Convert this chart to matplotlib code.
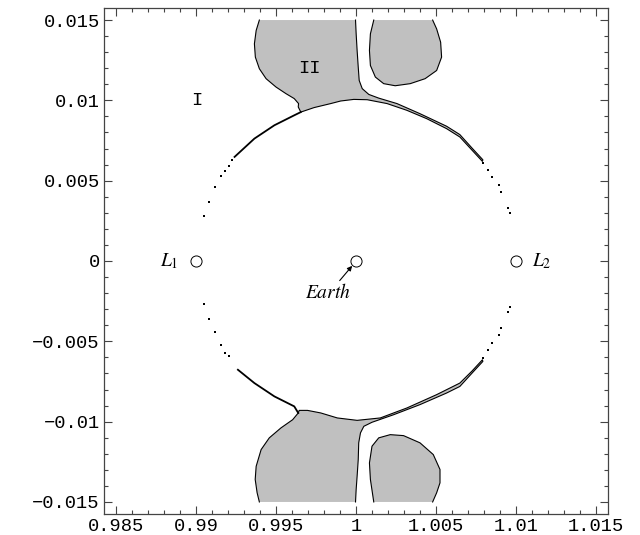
import numpy as np
import matplotlib
matplotlib.use("Agg")
from matplotlib import pyplot as plt
from matplotlib.ticker import MultipleLocator

plt.rcParams['mathtext.fontset'] = 'stix'

# all shape coordinates in units of 1e-3, measured from the Earth (x - 1, y)
# upper region II: left lobe + band along the top of the zero velocity curve
up_x = [-6.04, -6.24, -6.35, -6.29, -6.04, -5.62, -5.00, -4.38, -3.86, -3.59, -3.61,
        -3.45, -2.62, -1.58, -0.96, -0.14, 0.70, 1.94, 3.18, 4.42, 5.66, 6.49, 7.25, 7.90,
        7.93, 7.28, 6.49, 5.66, 4.00, 2.56, 1.42, 0.80, 0.39, 0.20, 0.14, 0.07, 0.01, -0.03]
up_y = [15.0, 14.35, 13.52, 12.69, 11.97, 11.35, 10.83, 10.42, 10.11, 9.80, 9.59,
        9.27, 9.55, 9.80, 9.96, 10.06, 10.04, 9.80, 9.38, 8.86, 8.24, 7.72, 6.90, 6.20,
        6.30, 7.00, 7.87, 8.39, 9.17, 9.80, 10.14, 10.37, 10.73, 11.24, 12.07, 13.11, 14.14, 15.0]

# upper right blob
ub_x = [1.11, 0.90, 0.84, 0.90, 1.21, 1.73, 2.45, 3.39, 4.32, 5.04, 5.35, 5.29, 5.04, 4.79]
ub_y = [15.0, 14.14, 13.11, 12.17, 11.45, 11.04, 10.91, 11.04, 11.35, 11.86, 12.69, 13.62, 14.45, 15.0]

# lower region II
lo_x = [-6.04, -6.18, -6.30, -6.24, -5.93, -5.42, -4.69, -3.96, -3.61,
        -3.55, -3.03, -2.20, -1.17, 0.07, 1.52, 3.18, 5.04, 6.49, 7.25, 7.90,
        7.93, 7.28, 6.49, 5.66, 4.00, 2.35, 1.00, 0.49, 0.28, 0.17, 0.14, 0.07, 0.01, -0.03]
lo_y = [-15.0, -14.43, -13.60, -12.78, -11.74, -11.01, -10.39, -9.88, -9.46,
        -9.30, -9.30, -9.46, -9.77, -9.92, -9.77, -9.15, -8.32, -7.60, -6.85, -6.15,
        -6.25, -6.95, -7.81, -8.22, -8.94, -9.57, -10.04, -10.29, -10.70, -11.32, -12.36, -13.40, -14.22, -15.0]

# lower right blob
lb_x = [1.11, 0.90, 0.84, 1.00, 1.42, 2.14, 2.97, 4.00, 4.83, 5.25, 5.25, 5.04, 4.79]
lb_y = [-15.0, -13.60, -12.57, -11.53, -11.01, -10.81, -10.87, -11.32, -12.05, -12.98, -13.81, -14.43, -15.0]

# thin band on the left side of the curve
bl_x = [-3.45, -3.86, -5.10, -6.35, -7.59]
bl_y = [9.27, 9.07, 8.45, 7.62, 6.48]
bll_x = [-3.61, -3.86, -5.10, -6.35, -7.38]
bll_y = [-9.46, -9.05, -8.43, -7.60, -6.77]

# isolated points of the curve
dot_x = [-7.75, -7.96, -8.21, -8.42, -8.83, -9.18, -9.49,
         -9.49, -9.18, -8.83, -8.42, -8.21, -7.96,
         7.94, 8.25, 8.52, 8.93, 9.08, 9.49, 9.60,
         9.60, 9.53, 9.08, 8.93, 8.52, 8.25, 7.94]
dot_y = [6.27, 5.92, 5.61, 5.30, 4.58, 3.68, 2.80,
         -2.69, -3.62, -4.39, -5.22, -5.73, -5.94,
         6.11, 5.65, 5.24, 4.72, 4.30, 3.27, 2.96,
         -2.84, -3.15, -4.18, -4.60, -5.11, -5.53, -6.04]

pts_x = [0.99, 1.0, 1.01]
pts_y = [0.0, 0.0, 0.0]

xt = [0.985, 0.99, 0.995, 1.0, 1.005, 1.01, 1.015]
xt_lab = ['0.985', '0.99', '0.995', '1', '1.005', '1.01', '1.015']
yt = [-0.015, -0.01, -0.005, 0.0, 0.005, 0.01, 0.015]
yt_lab = ['\u22120.015', '\u22120.01', '\u22120.005', '0', '0.005', '0.01', '0.015']


def tx(v):
    return 1 + np.array(v) * 1e-3


def ty(v):
    return np.array(v) * 1e-3


gray = '#c0c0c0'
fig = plt.figure(figsize=(6.4, 5.35), dpi=100)
ax = fig.add_axes([0.1625, 0.03925, 0.7875, 0.9458])

for xs, ys in [(up_x, up_y), (ub_x, ub_y), (lo_x, lo_y), (lb_x, lb_y)]:
    ax.fill(tx(xs), ty(ys), color=gray, lw=0)
    ax.plot(tx(xs), ty(ys), color='k', lw=0.8)

ax.plot(tx(bl_x), ty(bl_y), color='k', lw=1.3)
ax.plot(tx(bll_x), ty(bll_y), color='k', lw=1.3)
ax.plot(tx(dot_x), ty(dot_y), 's', color='k', ms=1.8, mew=0)

ax.plot(pts_x, pts_y, 'o', mfc='white', mec='k', ms=8, mew=0.7, zorder=5)

ax.text(tx(-11.7), 0, r'$L_1$', fontsize=14, ha='center', va='center')
ax.text(tx(11.6), 0, r'$L_2$', fontsize=14, ha='center', va='center')
ax.text(tx(-1.75), ty(-1.95), r'$Earth$', fontsize=14, ha='center', va='center')
ax.annotate('', xy=(tx(-0.24), ty(-0.3)), xytext=(tx(-1.02), ty(-1.22)),
            arrowprops=dict(arrowstyle='-|>', color='k', lw=0.8, mutation_scale=7,
                            shrinkA=0, shrinkB=0))
ax.text(tx(-9.97), ty(10.0), 'I', fontsize=13.5, family='Liberation Mono', ha='center', va='center')
ax.text(tx(-2.89), ty(12.0), 'II', fontsize=13.5, family='Liberation Mono', ha='center', va='center')

ax.set_xlim(1 - 0.01575, 1 + 0.01575)
ax.set_ylim(-0.01575, 0.01575)
ax.set_xticks(xt)
ax.set_xticklabels(xt_lab)
ax.set_yticks(yt)
ax.set_yticklabels(yt_lab)
ax.xaxis.set_minor_locator(MultipleLocator(0.001))
ax.yaxis.set_minor_locator(MultipleLocator(0.001))
ax.tick_params(which='both', direction='in', top=True, right=True, color='#444', width=0.8)
ax.tick_params(which='major', length=6, labelsize=13.5, pad=3)
ax.tick_params(which='minor', length=3)
for lab in ax.get_xticklabels() + ax.get_yticklabels():
    lab.set_family('Liberation Mono')
for sp in ax.spines.values():
    sp.set_color('#444')
    sp.set_linewidth(0.9)

fig.savefig('out.png', dpi=100)
